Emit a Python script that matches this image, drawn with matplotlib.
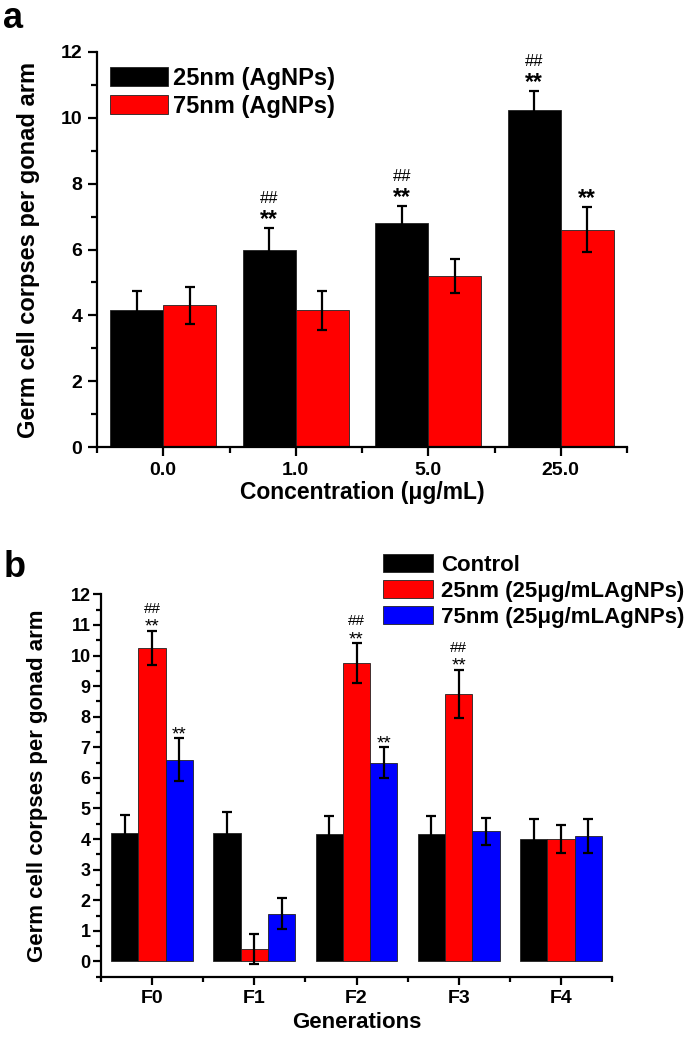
import matplotlib
matplotlib.use("Agg")
import matplotlib.pyplot as plt
import numpy as np

plt.rcParams['font.family'] = ['Liberation Sans', 'DejaVu Sans']
plt.rcParams['font.weight'] = 'bold'

# ---------------- data panel a ----------------
conc_labels = ['0.0', '1.0', '5.0', '25.0']
a_25nm = [4.15, 6.0, 6.8, 10.25]
a_25nm_err = [0.6, 0.64, 0.52, 0.56]
a_75nm = [4.3, 4.15, 5.2, 6.6]
a_75nm_err = [0.57, 0.6, 0.51, 0.68]
a_25nm_stars = ['', '**', '**', '**']
a_25nm_hash = ['', '##', '##', '##']
a_75nm_stars = ['', '', '', '**']
a_legend = ['25nm (AgNPs)', '75nm (AgNPs)']

# ---------------- data panel b ----------------
gen_labels = ['F0', 'F1', 'F2', 'F3', 'F4']
b_control = [4.2, 4.2, 4.15, 4.15, 4.0]
b_control_err = [0.6, 0.68, 0.6, 0.6, 0.65]
b_25nm = [10.25, 0.4, 9.75, 8.75, 4.0]
b_25nm_err = [0.56, 0.5, 0.65, 0.78, 0.47]
b_75nm = [6.6, 1.56, 6.5, 4.25, 4.1]
b_75nm_err = [0.69, 0.51, 0.5, 0.45, 0.55]
b_25nm_stars = ['**', '', '**', '**', '']
b_25nm_hash = ['##', '', '##', '##', '']
b_75nm_stars = ['**', '', '**', '', '']
b_legend = ['Control', '25nm (25μg/mLAgNPs)', '75nm (25μg/mLAgNPs)']

W, H = 685, 1040
fig = plt.figure(figsize=(W / 100, H / 100), dpi=100)

def style_axes(ax):
    for s in ['top', 'right']:
        ax.spines[s].set_visible(False)
    for s in ['left', 'bottom']:
        ax.spines[s].set_linewidth(1.6)
    ax.tick_params(which='major', direction='out', length=6.5, width=1.6)
    ax.tick_params(which='minor', direction='out', length=4.2, width=1.6)

# ================= panel a =================
ax1 = fig.add_axes([97 / W, 1 - 447 / H, (627 - 97) / W, (447 - 52) / H])
x = np.arange(len(conc_labels))
bw = 0.4
ekw = dict(elinewidth=1.6, capthick=1.6, ecolor='black')
ax1.bar(x - bw / 2, a_25nm, bw, yerr=a_25nm_err, color='black', edgecolor='#222222',
        linewidth=0.6, capsize=3.6, error_kw=ekw, label=a_legend[0])
ax1.bar(x + bw / 2, a_75nm, bw, yerr=a_75nm_err, color='#ff0000', edgecolor='#222222',
        linewidth=0.6, capsize=3.6, error_kw=ekw, label=a_legend[1])
ax1.set_xlim(-0.5, len(conc_labels) - 0.5)
ax1.set_ylim(0, 12)
style_axes(ax1)
ax1.set_xticks(x)
ax1.set_xticklabels(conc_labels)
ax1.set_xticks(np.arange(-0.5, len(conc_labels), 1.0), minor=True)
ax1.set_yticks(np.arange(0, 13, 2))
ax1.set_yticks(np.arange(1, 12, 2), minor=True)
ax1.tick_params(axis='both', which='major', labelsize=14, pad=4)
for lab in ax1.get_xticklabels() + ax1.get_yticklabels():
    lab.set_fontweight('bold')
ax1.set_xlabel('Concentration (μg/mL)', fontsize=16.5, fontweight='bold')
ax1.xaxis.set_label_coords(0.5, -0.085)
ax1.set_ylabel('Germ cell corpses per gonad arm', fontsize=17, fontweight='bold')
ax1.yaxis.set_label_coords(-0.108, 0.5)

for i in range(len(conc_labels)):
    top = a_25nm[i] + a_25nm_err[i]
    if a_25nm_stars[i]:
        ax1.annotate(a_25nm_stars[i], xy=(x[i] - bw / 2, top), xytext=(0, 1.5),
                     textcoords='offset points', ha='center', va='baseline',
                     fontsize=16.5, fontweight='bold')
    if a_25nm_hash[i]:
        ax1.annotate(a_25nm_hash[i], xy=(x[i] - bw / 2, top), xytext=(0, 18),
                     textcoords='offset points', ha='center', va='baseline',
                     fontsize=12, fontweight='normal')
    top2 = a_75nm[i] + a_75nm_err[i]
    if a_75nm_stars[i]:
        ax1.annotate(a_75nm_stars[i], xy=(x[i] + bw / 2, top2), xytext=(0, 1.5),
                     textcoords='offset points', ha='center', va='baseline',
                     fontsize=16.5, fontweight='bold')

ax1.legend(loc='upper left', bbox_to_anchor=(0.0245, 0.963), frameon=False,
           handlelength=2.45, handleheight=0.9, labelspacing=0.21,
           handletextpad=0.2, borderpad=0, borderaxespad=0,
           prop={'weight': 'bold', 'size': 17})

# ================= panel b =================
ax2 = fig.add_axes([101 / W, 1 - 976.7 / H, (612 - 101) / W, (976.7 - 594.4) / H])
xb = np.arange(len(gen_labels))
bw2 = 0.8 / 3
ax2.bar(xb - bw2, b_control, bw2, yerr=b_control_err, color='black', edgecolor='#222222',
        linewidth=0.6, capsize=3.6, error_kw=ekw, label=b_legend[0])
ax2.bar(xb, b_25nm, bw2, yerr=b_25nm_err, color='#ff0000', edgecolor='#222222',
        linewidth=0.6, capsize=3.6, error_kw=ekw, label=b_legend[1])
ax2.bar(xb + bw2, b_75nm, bw2, yerr=b_75nm_err, color='#0000ff', edgecolor='#222222',
        linewidth=0.6, capsize=3.6, error_kw=ekw, label=b_legend[2])
ax2.set_xlim(-0.5, len(gen_labels) - 0.5)
ax2.set_ylim(-0.5, 12)
style_axes(ax2)
ax2.tick_params(which='major', length=5.5)
ax2.tick_params(which='minor', length=3.8)
ax2.set_xticks(xb)
ax2.set_xticklabels(gen_labels)
ax2.set_xticks(np.arange(-0.5, len(gen_labels), 1.0), minor=True)
ax2.set_yticks(np.arange(0, 13, 1))
ax2.set_yticks(np.arange(-0.5, 12, 1.0), minor=True)
ax2.tick_params(axis='x', which='major', labelsize=14, pad=4)
ax2.tick_params(axis='y', which='major', labelsize=13, pad=2)
for lab in ax2.get_xticklabels() + ax2.get_yticklabels():
    lab.set_fontweight('bold')
ax2.set_xlabel('Generations', fontsize=16, fontweight='bold')
ax2.xaxis.set_label_coords(0.5, -0.092)
ax2.set_ylabel('Germ cell corpses per gonad arm', fontsize=16, fontweight='bold')
ax2.yaxis.set_label_coords(-0.104, 0.5)

for i in range(len(gen_labels)):
    top = b_25nm[i] + b_25nm_err[i]
    if b_25nm_stars[i]:
        ax2.annotate(b_25nm_stars[i], xy=(xb[i], top), xytext=(0, -0.5),
                     textcoords='offset points', ha='center', va='baseline',
                     fontsize=13.5, fontweight='normal')
    if b_25nm_hash[i]:
        ax2.annotate(b_25nm_hash[i], xy=(xb[i], top), xytext=(0, 13),
                     textcoords='offset points', ha='center', va='baseline',
                     fontsize=11, fontweight='normal')
    top3 = b_75nm[i] + b_75nm_err[i]
    if b_75nm_stars[i]:
        ax2.annotate(b_75nm_stars[i], xy=(xb[i] + bw2, top3), xytext=(0, -0.5),
                     textcoords='offset points', ha='center', va='baseline',
                     fontsize=13.5, fontweight='normal')

ax2.legend(loc='upper left', bbox_to_anchor=(0.552, 1.1057), frameon=False,
           handlelength=2.25, handleheight=0.86, labelspacing=0.2,
           handletextpad=0.35, borderpad=0, borderaxespad=0,
           prop={'weight': 'bold', 'size': 16})

# panel letters
fig.text(0.004, 1 - 28 / H, 'a', fontsize=26, fontweight='bold', va='baseline', ha='left')
fig.text(0.006, 1 - 577 / H, 'b', fontsize=26, fontweight='bold', va='baseline', ha='left')

fig.savefig('out.png', dpi=100)
